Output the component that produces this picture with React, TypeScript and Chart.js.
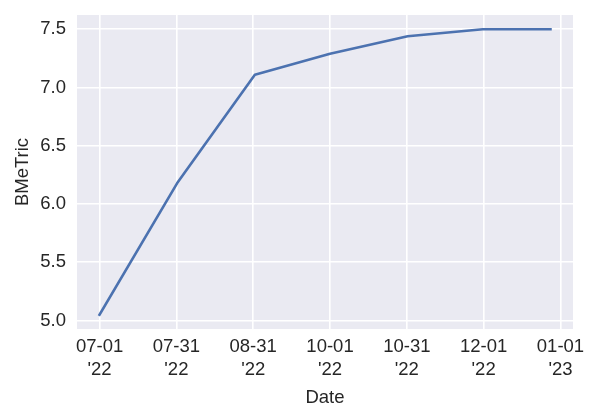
import React, { useEffect, useRef } from "react";
import { Chart, registerables } from "chart.js";

Chart.register(...registerables);

// Days since 2022-07-01 for each observation
const dayOffsets = [0, 31, 62, 92, 123, 153, 180];
const bmetric = [5.05, 6.18, 7.11, 7.29, 7.44, 7.5, 7.5];

const xTickDays = [0, 30.67, 61.33, 92, 122.67, 153.33, 184];
const xTickLabels = [
  ["07-01", "'22"],
  ["07-31", "'22"],
  ["08-31", "'22"],
  ["10-01", "'22"],
  ["10-31", "'22"],
  ["12-01", "'22"],
  ["01-01", "'23"],
];
const yTicks = [5.0, 5.5, 6.0, 6.5, 7.0, 7.5];

const FONT = "'Liberation Sans', Arial, sans-serif";
const TEXT = "#262626";

const bgPlugin = {
  id: "axesBg",
  beforeDraw(chart: any) {
    const { ctx, chartArea } = chart;
    if (!chartArea) return;
    ctx.save();
    ctx.fillStyle = "#EAEAF2";
    ctx.fillRect(chartArea.left, chartArea.top, chartArea.right - chartArea.left, chartArea.bottom - chartArea.top);
    ctx.restore();
  },
};

const zeroPad = (scale: any) => {
  scale.paddingTop = 0;
  scale.paddingBottom = 0;
  scale.paddingLeft = 0;
  scale.paddingRight = 0;
};

export default function App() {
  const ref = useRef<HTMLCanvasElement | null>(null);

  useEffect(() => {
    if (!ref.current) return;
    const xMinD = Math.min(...dayOffsets);
    const xMaxD = Math.max(...dayOffsets);
    const xm = (xMaxD - xMinD) * 0.05;
    const yMinD = Math.min(...bmetric);
    const yMaxD = Math.max(...bmetric);
    const ym = (yMaxD - yMinD) * 0.05;

    const chart = new Chart(ref.current, {
      type: "line",
      data: {
        datasets: [
          {
            data: dayOffsets.map((d, i) => ({ x: d, y: bmetric[i] })),
            borderColor: "#4C72B0",
            borderWidth: 2.6,
            pointRadius: 0,
            tension: 0,
            borderCapStyle: "square",
            borderJoinStyle: "round",
            fill: false,
          },
        ],
      },
      options: {
        animation: false,
        responsive: false,
        devicePixelRatio: 1,
        layout: { padding: { top: 15, right: 27, left: 0, bottom: 0 } },
        plugins: { legend: { display: false }, tooltip: { enabled: false } },
        scales: {
          x: {
            type: "linear",
            min: xMinD - xm,
            max: xMaxD + xm,
            afterBuildTicks: (scale: any) => {
              scale.ticks = xTickDays.map((v) => ({ value: v }));
            },
            afterFit: (scale: any) => {
              scale.height = 91;
              zeroPad(scale);
            },
            grid: { color: "#ffffff", lineWidth: 1.6, drawTicks: false },
            border: { display: false },
            ticks: {
              autoSkip: false,
              maxRotation: 0,
              minRotation: 0,
              padding: 6.6,
              color: TEXT,
              font: { family: FONT, size: 18.5, lineHeight: 1.22 },
              callback: (_v: any, i: number) => xTickLabels[i],
            },
            title: {
              display: true,
              text: "Date",
              color: TEXT,
              font: { family: FONT, size: 18.5, lineHeight: 1.2 },
              padding: { top: 0, bottom: 11.3 },
            },
          },
          y: {
            type: "linear",
            min: yMinD - ym,
            max: yMaxD + ym,
            afterBuildTicks: (scale: any) => {
              scale.ticks = yTicks.map((v) => ({ value: v }));
            },
            afterFit: (scale: any) => {
              scale.width = 77;
              zeroPad(scale);
            },
            grid: { color: "#ffffff", lineWidth: 1.6, drawTicks: false },
            border: { display: false },
            ticks: {
              padding: 11,
              color: TEXT,
              font: { family: FONT, size: 18.5 },
              callback: (v: any) => Number(v).toFixed(1),
            },
            title: {
              display: true,
              text: "BMeTric",
              color: TEXT,
              font: { family: FONT, size: 18.5, lineHeight: 1.2 },
              padding: { top: 12, bottom: 0 },
            },
          },
        },
      },
      plugins: [bgPlugin],
    } as any);

    return () => chart.destroy();
  }, []);

  return (
    <div style={{ position: "fixed", left: 0, top: 0, width: 600, height: 420, background: "#ffffff" }}>
      <canvas ref={ref} width={600} height={420} style={{ width: 600, height: 420 }} />
    </div>
  );
}
